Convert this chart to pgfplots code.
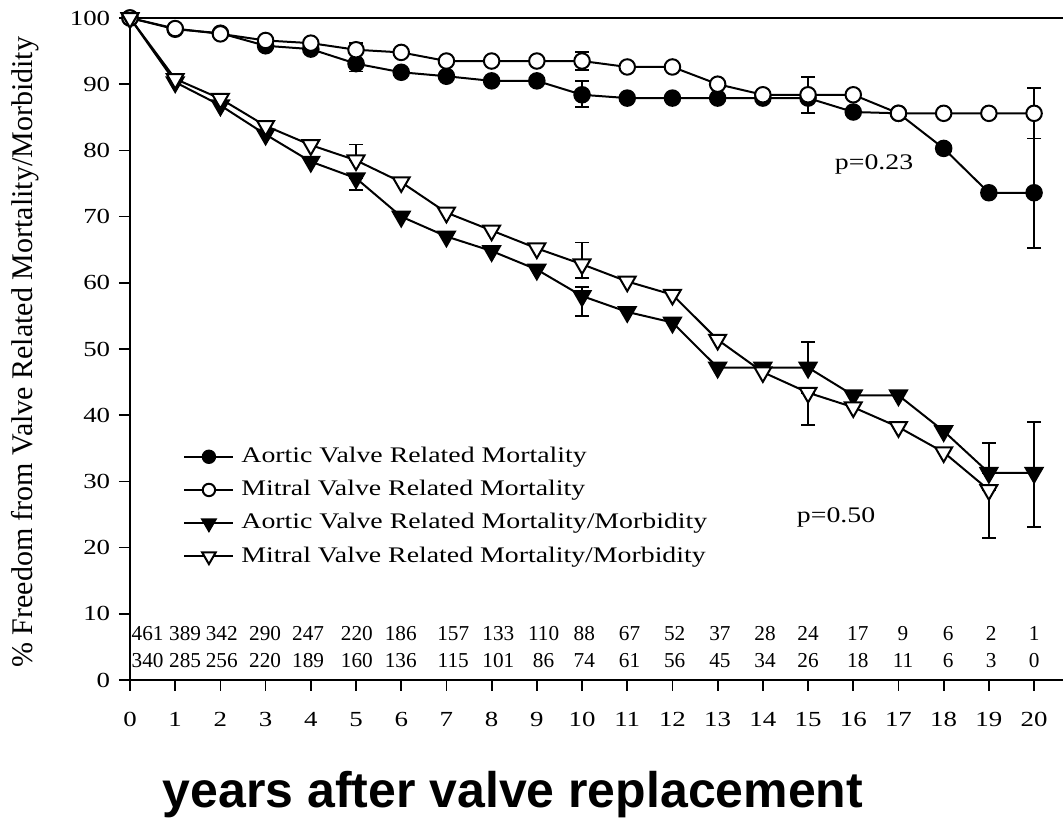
\documentclass[border=0pt]{standalone}
\usepackage{pgfplots}
\pgfplotsset{compat=1.18}
\usepackage{pgfplotstable}
\usepackage{fontspec}
\setmainfont{Liberation Serif}[FakeStretch=1.25]
\newfontfamily\ylabfont{Liberation Serif}
\newfontfamily\xlabfont{Liberation Sans}

\pgfplotstableread{
x y
0 100
1 98.3
2 97.7
3 95.8
4 95.3
5 93.1
6 91.8
7 91.2
8 90.5
9 90.5
10 88.4
11 87.9
12 87.9
13 87.9
14 87.9
15 87.9
16 85.8
17 85.6
18 80.3
19 73.6
20 73.6
}\AM

\pgfplotstableread{
x y
0 100
1 98.4
2 97.6
3 96.6
4 96.2
5 95.2
6 94.8
7 93.5
8 93.5
9 93.5
10 93.5
11 92.6
12 92.6
13 90.0
14 88.4
15 88.4
16 88.4
17 85.6
18 85.6
19 85.6
20 85.6
}\MM

\pgfplotstableread{
x y
0 100
1 90.3
2 86.8
3 82.4
4 78.3
5 75.8
6 70.0
7 67.0
8 64.8
9 62.0
10 58.0
11 55.6
12 54.0
13 47.2
14 47.2
15 47.2
16 43.0
17 43.0
18 37.6
19 31.3
20 31.3
}\AMM

\pgfplotstableread{
x y
0 100
1 90.8
2 87.8
3 83.7
4 80.8
5 78.5
6 75.2
7 70.6
8 67.9
9 65.2
10 62.8
11 60.2
12 58.2
13 51.4
14 46.5
15 43.4
16 41.2
17 38.2
18 34.4
19 28.7
}\MMM

% error bar segments (low, high), separated by nan
\pgfplotstableread{
x y
5 95.2
5 96.2
nan nan
5 91.9
5 93.1
nan nan
5 78.5
5 80.9
nan nan
5 74.0
5 75.8
nan nan
10 92.1
10 94.9
nan nan
10 86.6
10 90.5
nan nan
10 60.7
10 66.1
nan nan
10 55.0
10 59.4
nan nan
15 88.4
15 91.1
nan nan
15 85.6
15 87.9
nan nan
15 38.5
15 43.4
nan nan
15 47.2
15 51.0
nan nan
19 21.4
19 28.7
nan nan
19 31.3
19 35.8
nan nan
20 81.8
20 89.4
nan nan
20 65.2
20 81.8
nan nan
20 23.1
20 39.0
}\ERR

% numbers at risk
\pgfplotstableread{
x y n
0.39 6.0 461
1.22 6.0 389
2.03 6.0 342
2.99 6.0 290
3.94 6.0 247
5.02 6.0 220
5.99 6.0 186
7.15 6.0 157
8.15 6.0 133
9.15 6.0 110
10.05 6.0 88
11.05 6.0 67
12.05 6.0 52
13.05 6.0 37
14.05 6.0 28
15.0 6.0 24
16.1 6.0 17
17.1 6.0 9
18.1 6.0 6
19.05 6.0 2
20.0 6.0 1
0.39 1.9 340
1.22 1.9 285
2.03 1.9 256
2.99 1.9 220
3.94 1.9 189
5.02 1.9 160
5.99 1.9 136
7.15 1.9 115
8.15 1.9 101
9.15 1.9 86
10.05 1.9 74
11.05 1.9 61
12.05 1.9 56
13.05 1.9 45
14.05 1.9 34
15.0 1.9 26
16.1 1.9 18
17.1 1.9 11
18.1 1.9 6
19.05 1.9 3
20.0 1.9 0
}\RISK

\begin{document}
\begin{tikzpicture}
\useasboundingbox (-52pt,-56pt) rectangle (373.2pt,272pt);
\begin{axis}[
  scale only axis, width=373.2pt, height=264.8pt,
  at={(0,0)}, anchor=south west,
  xmin=0, xmax=20.64, ymin=0, ymax=100,
  axis lines=left, axis line style={-, line width=0.8pt},
  xtick={0,1,...,20}, ytick={0,10,...,100},
  tick align=outside, major tick length=4.4pt,
  tick style={line width=0.7pt, black},
  ticklabel style={font=\fontsize{8.6}{9}\selectfont},
  /pgf/number format/assume math mode=true,
  xticklabel style={yshift=-5pt},
  xlabel={years after valve replacement},
  xlabel style={at={(axis description cs:0.4105,-0.1737)}, anchor=center, inner sep=0pt, font=\xlabfont\bfseries\fontsize{20}{22}\selectfont},
  ylabel={\% Freedom from Valve Related Mortality/Morbidity},
  ylabel style={at={(axis description cs:-0.1125,0.495)}, anchor=center, inner sep=0pt, font=\ylabfont\fontsize{12}{14}\selectfont},
  legend style={draw=none, fill=none, inner sep=0pt, at={(axis cs:1.17,36.3)}, anchor=north west,
    nodes={inner sep=2.8pt, font=\fontsize{8.9}{10}\selectfont}},
  legend cell align=left,
  legend image code/.code={\draw[mark repeat=2,mark phase=2, every mark/.append style={scale=0.8}] plot coordinates {(0cm,0cm) (0.345cm,0cm) (0.69cm,0cm)};},
  every axis plot/.append style={line width=0.8pt},
  unbounded coords=jump,
]
\addplot[forget plot, black, line width=0.7pt, mark=-, mark size=2.8pt, mark options={solid, line width=0.7pt}]
  table[x=x, y=y] {\ERR};

\addplot[black, mark=*, mark size=3.1pt, mark options={fill=black, solid}] table[x=x,y=y] {\AM};
\addlegendentry{Aortic Valve Related Mortality}
\addplot[black, mark=*, mark size=3.1pt, mark options={fill=white, solid}] table[x=x,y=y] {\MM};
\addlegendentry{Mitral Valve Related Mortality}
\addplot[black, mark=triangle*, mark size=3.9pt, mark options={fill=black, rotate=180, solid}] table[x=x,y=y] {\AMM};
\addlegendentry{Aortic Valve Related Mortality/Morbidity}
\addplot[black, mark=triangle*, mark size=3.9pt, mark options={fill=white, rotate=180, solid}] table[x=x,y=y] {\MMM};
\addlegendentry{Mitral Valve Related Mortality/Morbidity}

\addplot[forget plot, only marks, mark=none, nodes near coords, point meta=explicit symbolic,
  nodes near coords style={anchor=base, inner sep=0pt, font=\ylabfont\fontsize{8.5}{9}\selectfont}]
  table[x=x, y=y, meta=n] {\RISK};

\node[font=\fontsize{8.9}{10}\selectfont] at (axis cs:16.46,77.8) {p=0.23};
\node[font=\fontsize{8.9}{10}\selectfont] at (axis cs:15.62,24.6) {p=0.50};
\draw[line width=0.8pt] (rel axis cs:0,1) -- (rel axis cs:1,1);
\end{axis}
\end{tikzpicture}
\end{document}
